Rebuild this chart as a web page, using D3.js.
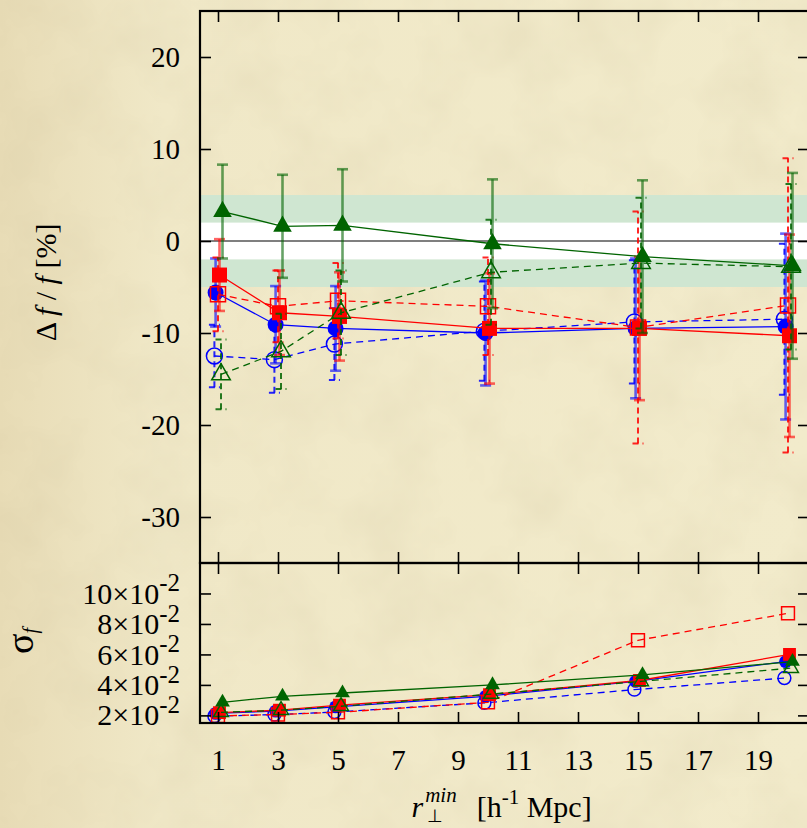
<!DOCTYPE html>
<html>
<head>
<meta charset="utf-8">
<script src="https://cdn.jsdelivr.net/npm/d3@7"></script>
<style>
  html, body { margin: 0; padding: 0; background: #efe6c4; }
  svg { display: block; }
</style>
</head>
<body>
<div class="chart"></div>
<script>
// r_perp^min values
const rMin = [1, 3, 5, 10, 15, 20];
const xTicks = [1, 3, 5, 7, 9, 11, 13, 15, 17, 19];
const dfTicks = [-30, -20, -10, 0, 10, 20];
const sigmaTicks = [0.02, 0.04, 0.06, 0.08, 0.10];
const bandOuter = [-5, 5];
const bandInner = [-2, 2];

// Delta f / f [%] and its error, one pair per series
const dfBlueFilled    = [-5.6, -9.1, -9.5, -10.0, -9.5, -9.3];
const errBlueFilled   = [3.7, 4.2, 4.6, 5.7, 7.6, 10.1];
const dfBlueOpen      = [-12.5, -12.9, -11.2, -9.8, -8.8, -8.5];
const errBlueOpen     = [3.4, 3.6, 3.9, 5.4, 6.7, 8.2];
const dfRedFilled     = [-3.7, -7.8, -8.2, -9.5, -9.5, -10.3];
const errRedFilled    = [3.9, 4.6, 4.8, 6.0, 7.8, 11.0];
const dfRedOpen       = [-5.8, -7.1, -6.5, -7.1, -9.4, -7.0];
const errRedOpen      = [4.0, 3.9, 4.1, 5.3, 12.6, 16.0];
const dfGreenFilled   = [3.2, 1.6, 1.7, -0.3, -1.7, -2.7];
const errGreenFilled  = [5.1, 5.6, 6.1, 7.0, 8.3, 10.1];
const dfGreenOpen     = [-14.5, -12.0, -7.8, -3.4, -2.4, -2.8];
const errGreenOpen    = [3.8, 4.1, 4.6, 5.7, 7.1, 9.0];

// sigma_f
const sgBlueFilled  = [0.0213, 0.0228, 0.0256, 0.0325, 0.0423, 0.0553];
const sgBlueOpen    = [0.0195, 0.0205, 0.0222, 0.0282, 0.0369, 0.0445];
const sgRedFilled   = [0.0218, 0.0234, 0.0267, 0.0336, 0.0429, 0.0600];
const sgRedOpen     = [0.0196, 0.0206, 0.0220, 0.0286, 0.0693, 0.0870];
const sgGreenFilled = [0.0286, 0.0325, 0.0347, 0.0400, 0.0466, 0.0553];
const sgGreenOpen   = [0.0220, 0.0234, 0.0260, 0.0340, 0.0423, 0.0510];

const series = [
  {color: '#0000ff', shape: d3.symbolCircle,   filled: true,  dx: -0.08, df: dfBlueFilled,  err: errBlueFilled,  sg: sgBlueFilled},
  {color: '#0000ff', shape: d3.symbolCircle,   filled: false, dx: -0.12, df: dfBlueOpen,    err: errBlueOpen,    sg: sgBlueOpen},
  {color: '#ff0000', shape: d3.symbolSquare,   filled: false, dx: 0,     df: dfRedOpen,     err: errRedOpen,     sg: sgRedOpen},
  {color: '#ff0000', shape: d3.symbolSquare,   filled: true,  dx: 0.05,  df: dfRedFilled,   err: errRedFilled,   sg: sgRedFilled},
  {color: '#006400', shape: d3.symbolTriangle, filled: false, dx: 0.1,   df: dfGreenOpen,   err: errGreenOpen,   sg: sgGreenOpen},
  {color: '#006400', shape: d3.symbolTriangle, filled: true,  dx: 0.15,  df: dfGreenFilled, err: errGreenFilled, sg: sgGreenFilled}
];

let w = 807,
    h = 828,
    left = 200,
    right = 809,
    topY = 11,
    midY = 563,
    botY = 723,
    tick = 11,
    font = 'Liberation Serif, Times New Roman, serif';

const svg = d3.select('.chart')
              .append('svg')
              .attr('width', w)
              .attr('height', h)
              .style('font-family', font);

// parchment background
const defs = svg.append('defs');
const grad = defs.append('linearGradient').attr('id', 'bg').attr('x1', 0).attr('x2', 1).attr('y1', 0).attr('y2', 0);
grad.append('stop').attr('offset', '0%').attr('stop-color', '#e8dcb6');
grad.append('stop').attr('offset', '20%').attr('stop-color', '#f0e8c7');
grad.append('stop').attr('offset', '100%').attr('stop-color', '#f2ebcb');
const f = defs.append('filter').attr('id', 'paper').attr('x', 0).attr('y', 0).attr('width', 1).attr('height', 1);
f.append('feTurbulence').attr('type', 'fractalNoise').attr('baseFrequency', 0.014).attr('numOctaves', 4).attr('seed', 7);
f.append('feColorMatrix').attr('type', 'matrix')
 .attr('values', '0 0 0 0 0.6  0 0 0 0 0.52  0 0 0 0 0.32  0.35 0 0 0 -0.13');
defs.append('clipPath').attr('id', 'clipTop')
    .append('rect').attr('x', left).attr('y', topY).attr('width', right - left).attr('height', midY - topY);
defs.append('clipPath').attr('id', 'clipBot')
    .append('rect').attr('x', left).attr('y', midY).attr('width', right - left).attr('height', botY - midY);

svg.append('rect').attr('width', w).attr('height', h).attr('fill', 'url(#bg)');
svg.append('rect').attr('width', w).attr('height', h).attr('filter', 'url(#paper)');

const xScale = d3.scaleLinear().domain([0.4, 20.7]).range([left, right]);
const yTop = d3.scaleLinear().domain([-35, 25]).range([midY, topY]);
const yBot = d3.scaleLinear().domain([0.015, 0.12]).range([botY, midY]);

// ---- top panel ----
const gTop = svg.append('g').attr('clip-path', 'url(#clipTop)');

gTop.selectAll('rect.band')
    .data([[bandOuter[0], bandOuter[1], '#cfe6d1'], [bandInner[0], bandInner[1], '#ffffff']])
    .enter()
    .append('rect')
    .attr('x', left)
    .attr('width', right - left)
    .attr('y', (d) => yTop(d[1]))
    .attr('height', (d) => yTop(d[0]) - yTop(d[1]))
    .attr('fill', (d) => d[2]);

gTop.append('line')
    .attr('x1', left).attr('x2', right)
    .attr('y1', yTop(0)).attr('y2', yTop(0))
    .attr('stroke', '#000').attr('stroke-width', 1.2);

const drawSeries = (g, s, yScale, key, withErr, symSizes) => {
  const pts = rMin.map((x, i) => ({x: x + s.dx, y: s[key][i], e: withErr ? s.err[i] : 0}));
  const dash = s.filled ? null : '7,5';

  g.append('path')
   .datum(pts)
   .attr('fill', 'none')
   .attr('stroke', s.color)
   .attr('stroke-width', 1.3)
   .attr('stroke-dasharray', dash)
   .attr('d', d3.line().x((d) => xScale(d.x)).y((d) => yScale(d.y)));

  if (withErr) {
    const eg = g.append('g')
                .attr('stroke', s.color)
                .attr('stroke-width', s.filled ? 2.6 : 2)
                .attr('stroke-opacity', s.filled ? 0.6 : 0.85)
                .attr('stroke-dasharray', s.filled ? null : '6,4');
    eg.selectAll('line.bar')
      .data(pts)
      .enter()
      .append('line')
      .attr('x1', (d) => xScale(d.x)).attr('x2', (d) => xScale(d.x))
      .attr('y1', (d) => yScale(d.y - d.e)).attr('y2', (d) => yScale(d.y + d.e));
    const caps = pts.flatMap((d) => [{x: d.x, y: d.y - d.e}, {x: d.x, y: d.y + d.e}]);
    eg.selectAll('line.cap')
      .data(caps)
      .enter()
      .append('line')
      .attr('stroke-dasharray', null)
      .attr('x1', (d) => xScale(d.x) - 5.5).attr('x2', (d) => xScale(d.x) + 5.5)
      .attr('y1', (d) => yScale(d.y)).attr('y2', (d) => yScale(d.y));
  }

  const size = s.shape === d3.symbolCircle ? symSizes[0] : (s.shape === d3.symbolSquare ? symSizes[1] : symSizes[2]);
  g.selectAll('path.pt')
   .data(pts)
   .enter()
   .append('path')
   .attr('transform', (d) => `translate(${xScale(d.x)},${yScale(d.y)})`)
   .attr('d', d3.symbol().type(s.shape).size(size))
   .attr('fill', s.filled ? s.color : 'none')
   .attr('stroke', s.color)
   .attr('stroke-width', s.filled ? 0 : 1.5);
};

series.forEach((s) => drawSeries(gTop, s, yTop, 'df', true, [200, 225, 150]));

// ---- bottom panel ----
const gBot = svg.append('g').attr('clip-path', 'url(#clipBot)');
series.forEach((s) => drawSeries(gBot, s, yBot, 'sg', false, [130, 165, 95]));

// ---- axes ----
const styleAxis = (g) => {
  g.select('.domain').remove();
  g.selectAll('.tick line').attr('stroke', '#000').attr('stroke-width', 1.6);
  g.selectAll('.tick text').attr('fill', '#000').style('font-size', '29px').style('font-family', font);
};

svg.append('g')
   .attr('transform', `translate(${left},0)`)
   .call(d3.axisLeft(yTop).tickValues(dfTicks).tickSize(-tick).tickPadding(20).tickFormat((d) => String(d)))
   .call(styleAxis);
svg.append('g')
   .attr('transform', `translate(${right},0)`)
   .call(d3.axisRight(yTop).tickValues(dfTicks).tickSize(-tick).tickFormat(''))
   .call(styleAxis);
svg.append('g')
   .attr('transform', `translate(0,${topY})`)
   .call(d3.axisTop(xScale).tickValues(xTicks).tickSize(-tick).tickFormat(''))
   .call(styleAxis);
svg.append('g')
   .attr('transform', `translate(0,${midY})`)
   .call(d3.axisBottom(xScale).tickValues(xTicks).tickSize(-tick).tickFormat(''))
   .call(styleAxis);
svg.append('g')
   .attr('transform', `translate(0,${midY})`)
   .call(d3.axisTop(xScale).tickValues(xTicks).tickSize(-tick).tickFormat(''))
   .call(styleAxis);
svg.append('g')
   .attr('transform', `translate(0,${botY})`)
   .call(d3.axisBottom(xScale).tickValues(xTicks).tickSize(-tick).tickPadding(26).tickFormat((d) => String(d)))
   .call(styleAxis);

const sigAxis = svg.append('g')
   .attr('transform', `translate(${left},0)`)
   .call(d3.axisLeft(yBot).tickValues(sigmaTicks).tickSize(-tick).tickPadding(20))
   .call(styleAxis);
sigAxis.selectAll('.tick text')
   .style('font-size', '30px')
   .text(null)
   .each(function(d) {
     const t = d3.select(this);
     t.append('tspan').text(`${Math.round(d * 100)}×10`);
     t.append('tspan').attr('dy', '-0.5em').style('font-size', '25px').text('-2');
   });
svg.append('g')
   .attr('transform', `translate(${right},0)`)
   .call(d3.axisRight(yBot).tickValues(sigmaTicks).tickSize(-tick).tickFormat(''))
   .call(styleAxis);

// frames
[[topY, midY], [midY, botY]].forEach((p) => {
  svg.append('rect')
     .attr('x', left).attr('y', p[0])
     .attr('width', right - left).attr('height', p[1] - p[0])
     .attr('fill', 'none').attr('stroke', '#000').attr('stroke-width', 2.2);
});

// ---- axis titles ----
const yt = svg.append('text')
   .attr('transform', `translate(56,${(yTop(3) + yTop(-12)) / 2}) rotate(-90)`)
   .attr('text-anchor', 'middle')
   .style('font-size', '30px');
yt.append('tspan').text('Δ ');
yt.append('tspan').style('font-style', 'italic').text('f');
yt.append('tspan').text(' / ');
yt.append('tspan').style('font-style', 'italic').text('f');
yt.append('tspan').text('  [%]');

const st = svg.append('text')
   .attr('transform', `translate(33,641) rotate(-90)`)
   .attr('text-anchor', 'middle')
   .style('font-size', '38px');
st.append('tspan').text('σ');
st.append('tspan').attr('dy', '0.2em').style('font-size', '20px').style('font-style', 'italic').text('f');

const cx = (left + right) / 2;
const xt = svg.append('text')
   .attr('x', cx - 93).attr('y', 817)
   .style('font-size', '30px');
xt.append('tspan').style('font-style', 'italic').text('r');
xt.append('tspan').attr('dx', 2).attr('dy', -15).style('font-size', '21px').style('font-style', 'italic').text('min');
xt.append('tspan').attr('dx', 20).attr('dy', 15).text('[h');
xt.append('tspan').attr('dy', -13).style('font-size', '21px').text('-1');
xt.append('tspan').attr('dy', 13).text(' Mpc]');
svg.append('text')
   .attr('x', cx - 78).attr('y', 822)
   .style('font-size', '18px')
   .text('⊥');
</script>
</body>
</html>
